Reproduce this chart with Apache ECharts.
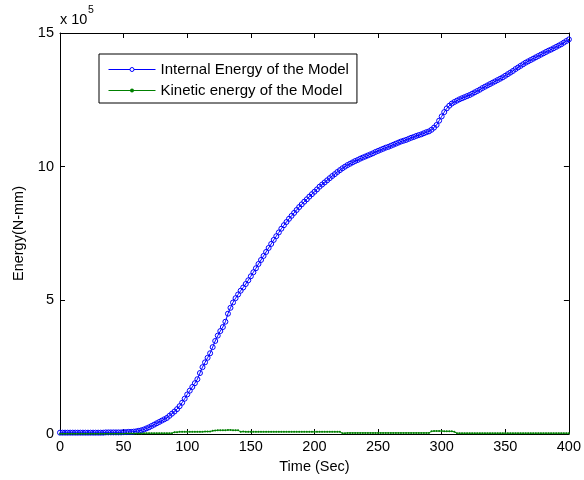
<!DOCTYPE html>
<html>
<head>
<meta charset="utf-8">
<script src="https://cdn.jsdelivr.net/npm/echarts@6/dist/echarts.min.js"></script>
<style>
  html, body { margin: 0; padding: 0; background: #fff; }
  #chart { width: 584px; height: 480px; }
</style>
</head>
<body>
<div id="chart"></div>
<script>
// Energy histories sampled every 2 s from 0 to 400 s, in units of 1e5 N-mm
const sampleStep = 2;

const internalEnergy = [
  0.05, 0.05, 0.05, 0.05, 0.05, 0.05, 0.05, 0.05, 0.05, 0.05,
  0.05, 0.05, 0.05, 0.05, 0.05, 0.05, 0.05, 0.05, 0.06, 0.06,
  0.06, 0.06, 0.06, 0.06, 0.06, 0.07, 0.07, 0.08, 0.08, 0.09,
  0.10, 0.12, 0.14, 0.17, 0.21, 0.25, 0.30, 0.35, 0.40, 0.45,
  0.50, 0.55, 0.60, 0.68, 0.76, 0.84, 0.93, 1.04, 1.17, 1.32,
  1.48, 1.62, 1.76, 1.90, 2.05, 2.28, 2.50, 2.68, 2.85, 3.02,
  3.25, 3.48, 3.68, 3.85, 4.00, 4.20, 4.50, 4.72, 4.92, 5.08,
  5.22, 5.36, 5.48, 5.61, 5.75, 5.90, 6.05, 6.20, 6.36, 6.51,
  6.66, 6.81, 6.96, 7.11, 7.26, 7.40, 7.54, 7.68, 7.81, 7.93,
  8.05, 8.16, 8.27, 8.38, 8.49, 8.59, 8.69, 8.78, 8.88, 8.97,
  9.06, 9.15, 9.25, 9.33, 9.41, 9.49, 9.57, 9.65, 9.72, 9.80,
  9.87, 9.94, 10.00, 10.06, 10.11, 10.16, 10.21, 10.25, 10.30, 10.34,
  10.38, 10.42, 10.46, 10.50, 10.55, 10.59, 10.63, 10.67, 10.71, 10.74,
  10.78, 10.82, 10.86, 10.90, 10.94, 10.97, 11.00, 11.04, 11.08, 11.11,
  11.15, 11.18, 11.21, 11.25, 11.29, 11.32, 11.38, 11.46, 11.56, 11.72,
  11.88, 12.04, 12.18, 12.28, 12.36, 12.42, 12.47, 12.52, 12.56, 12.60,
  12.64, 12.68, 12.73, 12.78, 12.83, 12.88, 12.94, 12.99, 13.04, 13.09,
  13.14, 13.19, 13.24, 13.29, 13.34, 13.40, 13.46, 13.52, 13.58, 13.65,
  13.71, 13.77, 13.83, 13.89, 13.94, 13.99, 14.04, 14.09, 14.14, 14.19,
  14.24, 14.29, 14.34, 14.38, 14.43, 14.48, 14.53, 14.58, 14.64, 14.70,
  14.76
];

const kineticEnergy = [
  0.01, 0.01, 0.01, 0.01, 0.01, 0.01, 0.01, 0.01, 0.01, 0.01,
  0.01, 0.01, 0.01, 0.01, 0.01, 0.01, 0.01, 0.01, 0.01, 0.01,
  0.01, 0.01, 0.01, 0.01, 0.01, 0.01, 0.02, 0.02, 0.02, 0.02,
  0.02, 0.02, 0.02, 0.03, 0.03, 0.03, 0.03, 0.03, 0.03, 0.03,
  0.03, 0.03, 0.03, 0.03, 0.03, 0.07, 0.07, 0.08, 0.08, 0.08,
  0.08, 0.08, 0.08, 0.08, 0.08, 0.08, 0.08, 0.09, 0.09, 0.09,
  0.12, 0.13, 0.14, 0.14, 0.14, 0.14, 0.15, 0.15, 0.14, 0.14,
  0.14, 0.08, 0.09, 0.08, 0.08, 0.08, 0.08, 0.08, 0.08, 0.08,
  0.08, 0.08, 0.08, 0.08, 0.08, 0.08, 0.08, 0.08, 0.08, 0.08,
  0.08, 0.08, 0.08, 0.08, 0.08, 0.08, 0.08, 0.08, 0.08, 0.08,
  0.08, 0.08, 0.08, 0.08, 0.08, 0.08, 0.08, 0.08, 0.08, 0.08,
  0.08, 0.03, 0.03, 0.04, 0.04, 0.04, 0.04, 0.04, 0.04, 0.04,
  0.04, 0.04, 0.04, 0.04, 0.04, 0.04, 0.04, 0.04, 0.04, 0.04,
  0.04, 0.04, 0.04, 0.04, 0.04, 0.04, 0.04, 0.04, 0.04, 0.04,
  0.04, 0.04, 0.04, 0.04, 0.04, 0.04, 0.10, 0.11, 0.11, 0.11,
  0.11, 0.10, 0.10, 0.10, 0.10, 0.08, 0.03, 0.03, 0.03, 0.03,
  0.03, 0.03, 0.03, 0.03, 0.03, 0.03, 0.03, 0.03, 0.03, 0.03,
  0.03, 0.03, 0.03, 0.03, 0.03, 0.03, 0.03, 0.03, 0.03, 0.03,
  0.03, 0.03, 0.03, 0.03, 0.03, 0.03, 0.03, 0.03, 0.03, 0.03,
  0.03, 0.03, 0.03, 0.03, 0.03, 0.03, 0.03, 0.03, 0.03, 0.03,
  0.03
];

const seriesNames = ['Internal Energy of the Model', 'Kinetic energy of the Model'];
const xTicks = { min: 0, max: 400, interval: 50 };
const yTicks = { min: 0, max: 15, interval: 5 };
const xTitle = 'Time (Sec)';
const yTitle = 'Energy(N-mm)';
const yScaleBase = 'x 10';
const yScaleExp = '5';

const FONT = 'Arial, "Liberation Sans", Helvetica, sans-serif';

function toPairs(values) {
  return values.map((v, i) => [i * sampleStep, v]);
}

// Boxed axes with inward ticks on all four sides
const boxAxis = {
  axisLine: { show: true, onZero: false, lineStyle: { color: '#000', width: 1 } },
  axisTick: { show: true, inside: true, length: 5, lineStyle: { color: '#000' } },
  splitLine: { show: false }
};

const chart = echarts.init(document.getElementById('chart'), null, { renderer: 'canvas' });

chart.setOption({
  animation: false,
  backgroundColor: '#fff',
  textStyle: { fontFamily: FONT },
  grid: { left: 60, right: 14, top: 33, bottom: 46, containLabel: false },
  xAxis: [
    Object.assign({
      type: 'value', position: 'bottom',
      min: xTicks.min, max: xTicks.max, interval: xTicks.interval,
      name: xTitle, nameLocation: 'middle', nameGap: 25,
      nameTextStyle: { color: '#000', fontSize: 14.5, fontFamily: FONT },
      axisLabel: { color: '#000', fontSize: 14.5, fontFamily: FONT, margin: 5 }
    }, boxAxis),
    Object.assign({
      type: 'value', position: 'top',
      min: xTicks.min, max: xTicks.max, interval: xTicks.interval,
      axisLabel: { show: false }
    }, boxAxis)
  ],
  yAxis: [
    Object.assign({
      type: 'value', position: 'left',
      min: yTicks.min, max: yTicks.max, interval: yTicks.interval,
      name: yTitle, nameLocation: 'middle', nameGap: 31,
      nameTextStyle: { color: '#000', fontSize: 14.5, fontFamily: FONT },
      axisLabel: { color: '#000', fontSize: 14.5, fontFamily: FONT, margin: 6 }
    }, boxAxis),
    Object.assign({
      type: 'value', position: 'right',
      min: yTicks.min, max: yTicks.max, interval: yTicks.interval,
      axisLabel: { show: false }
    }, boxAxis)
  ],
  legend: {
    orient: 'vertical',
    left: 99, top: 54,
    padding: [7, 8, 4, 9],
    itemWidth: 47, itemHeight: 5, itemGap: 4,
    backgroundColor: '#fff',
    borderColor: '#000', borderWidth: 1, borderRadius: 0,
    lineStyle: { width: 1 },
    textStyle: { color: '#000', fontSize: 15, fontFamily: FONT, lineHeight: 17 },
    data: [
      { name: seriesNames[0], itemStyle: { color: '#fff', borderColor: '#0000ff', borderWidth: 1 } },
      { name: seriesNames[1], itemStyle: { color: '#008000', borderWidth: 0 } }
    ],
    selectedMode: false
  },
  graphic: [
    { type: 'text', left: 60, top: 12,
      style: { text: yScaleBase, fill: '#000', font: '14.5px ' + FONT } },
    { type: 'text', left: 88, top: 5,
      style: { text: yScaleExp, fill: '#000', font: '10.5px ' + FONT } }
  ],
  series: [
    {
      name: seriesNames[0],
      type: 'line',
      data: toPairs(internalEnergy),
      symbol: 'circle',
      symbolSize: 5,
      showSymbol: true,
      lineStyle: { color: '#0000ff', width: 1 },
      itemStyle: { color: 'rgba(0,0,0,0)', borderColor: '#0000ff', borderWidth: 1 },
      emphasis: { disabled: true },
      z: 2
    },
    {
      name: seriesNames[1],
      type: 'line',
      data: toPairs(kineticEnergy),
      symbol: 'circle',
      symbolSize: 2,
      showSymbol: true,
      lineStyle: { color: '#008000', width: 1 },
      itemStyle: { color: '#008000', borderWidth: 0 },
      emphasis: { disabled: true },
      z: 3
    }
  ]
});
</script>
</body>
</html>
